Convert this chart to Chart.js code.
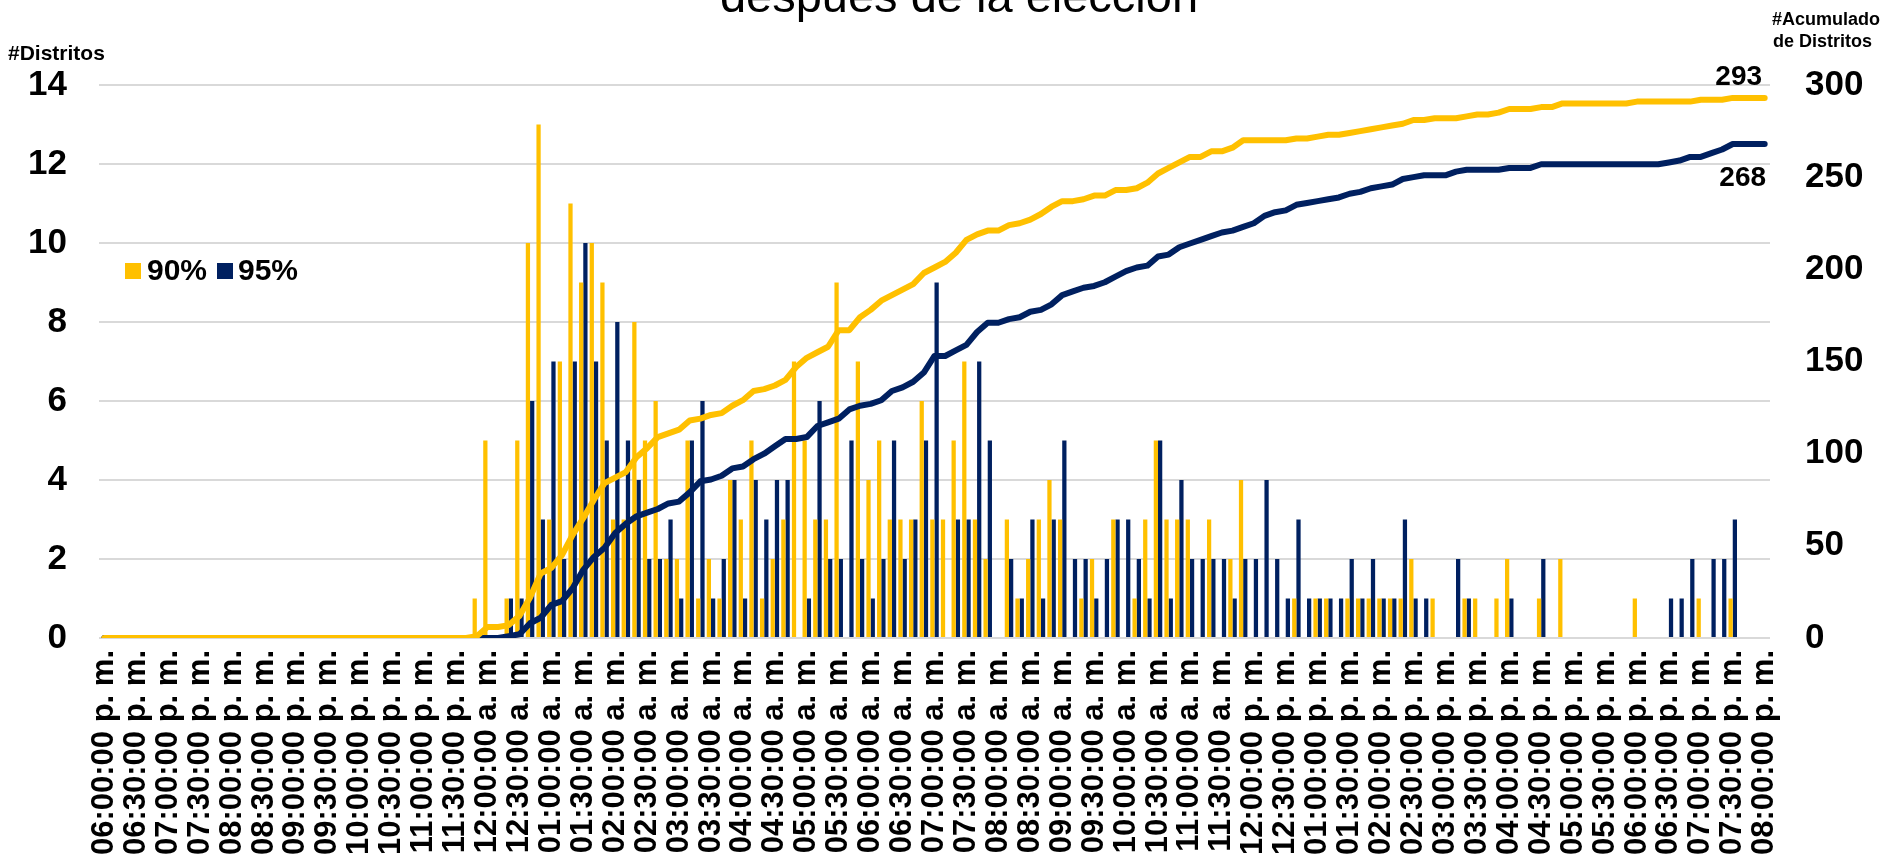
<!DOCTYPE html>
<html>
<head>
<meta charset="utf-8">
<script src="https://cdn.jsdelivr.net/npm/chart.js@4/dist/chart.umd.min.js"></script>
<style>
  body { margin: 0; background: #fff; }
  canvas { display: block; }
</style>
</head>
<body>
<canvas id="grafico" width="1881" height="856"></canvas>
<script>
// etiquetas del eje x (cada 30 min); los datos van cada 10 min
const tickLabels = [
  '06:00:00 p. m.', '06:30:00 p. m.', '07:00:00 p. m.', '07:30:00 p. m.', '08:00:00 p. m.', '08:30:00 p. m.',
  '09:00:00 p. m.', '09:30:00 p. m.', '10:00:00 p. m.', '10:30:00 p. m.', '11:00:00 p. m.', '11:30:00 p. m.',
  '12:00:00 a. m.', '12:30:00 a. m.', '01:00:00 a. m.', '01:30:00 a. m.', '02:00:00 a. m.', '02:30:00 a. m.',
  '03:00:00 a. m.', '03:30:00 a. m.', '04:00:00 a. m.', '04:30:00 a. m.', '05:00:00 a. m.', '05:30:00 a. m.',
  '06:00:00 a. m.', '06:30:00 a. m.', '07:00:00 a. m.', '07:30:00 a. m.', '08:00:00 a. m.', '08:30:00 a. m.',
  '09:00:00 a. m.', '09:30:00 a. m.', '10:00:00 a. m.', '10:30:00 a. m.', '11:00:00 a. m.', '11:30:00 a. m.',
  '12:00:00 p. m.', '12:30:00 p. m.', '01:00:00 p. m.', '01:30:00 p. m.', '02:00:00 p. m.', '02:30:00 p. m.',
  '03:00:00 p. m.', '03:30:00 p. m.', '04:00:00 p. m.', '04:30:00 p. m.', '05:00:00 p. m.', '05:30:00 p. m.',
  '06:00:00 p. m.', '06:30:00 p. m.', '07:00:00 p. m.', '07:30:00 p. m.', '08:00:00 p. m.'
];

// distritos por intervalo de 10 min (una fila = 2 horas)
const barras90 = [
  0,0,0,0,0,0,0,0,0,0,0,0,
  0,0,0,0,0,0,0,0,0,0,0,0,
  0,0,0,0,0,0,0,0,0,0,0,1,
  5,0,1,5,10,13,3,7,11,9,10,9,
  3,3,8,5,6,2,2,5,1,2,1,4,
  3,5,1,2,3,7,5,3,3,9,0,7,
  4,5,3,3,3,6,3,3,5,7,3,2,
  0,3,1,2,3,4,3,0,1,2,0,3,
  0,1,3,5,3,3,3,0,3,0,2,4,
  0,0,0,0,1,0,1,1,0,1,1,1,
  1,1,1,2,0,1,0,0,1,1,0,1,
  2,0,0,1,0,2,0,0,0,0,0,0,
  1,0,0,0,0,0,1,0,0,1,0,0,
  0
];
const barras95 = [
  0,0,0,0,0,0,0,0,0,0,0,0,
  0,0,0,0,0,0,0,0,0,0,0,0,
  0,0,0,0,0,0,0,0,0,0,0,0,
  0,0,1,1,6,3,7,2,7,10,7,5,
  8,5,4,2,2,3,1,5,6,1,2,4,
  1,4,3,4,4,0,1,6,2,2,5,2,
  1,2,5,2,3,5,9,0,3,3,7,5,
  0,2,1,3,1,3,5,2,2,1,2,3,
  3,2,1,5,1,4,2,2,2,2,1,2,
  2,4,2,1,3,1,1,1,1,2,1,2,
  1,1,3,1,1,0,0,2,1,0,0,0,
  1,0,0,2,0,0,0,0,0,0,0,0,
  0,0,0,1,1,2,0,2,2,3,0,0,
  0
];

// acumulado de distritos
const acum90 = [
  0,0,0,0,0,0,0,0,0,0,0,0,
  0,0,0,0,0,0,0,0,0,0,0,0,
  0,0,0,0,0,0,0,0,0,0,0,1,
  6,6,7,12,22,35,38,45,56,65,75,84,
  87,90,98,103,109,111,113,118,119,121,122,126,
  129,134,135,137,140,147,152,155,158,167,167,174,
  178,183,186,189,192,198,201,204,209,216,219,221,
  221,224,225,227,230,234,237,237,238,240,240,243,
  243,244,247,252,255,258,261,261,264,264,266,270,
  270,270,270,270,271,271,272,273,273,274,275,276,
  277,278,279,281,281,282,282,282,283,284,284,285,
  287,287,287,288,288,290,290,290,290,290,290,290,
  291,291,291,291,291,291,292,292,292,293,293,293,
  293
];
const acum95 = [
  0,0,0,0,0,0,0,0,0,0,0,0,
  0,0,0,0,0,0,0,0,0,0,0,0,
  0,0,0,0,0,0,0,0,0,0,0,0,
  0,0,1,2,8,11,18,20,27,37,44,49,
  57,62,66,68,70,73,74,79,85,86,88,92,
  93,97,100,104,108,108,109,115,117,119,124,126,
  127,129,134,136,139,144,153,153,156,159,166,171,
  171,173,174,177,178,181,186,188,190,191,193,196,
  199,201,202,207,208,212,214,216,218,220,221,223,
  225,229,231,232,235,236,237,238,239,241,242,244,
  245,246,249,250,251,251,251,253,254,254,254,254,
  255,255,255,257,257,257,257,257,257,257,257,257,
  257,257,257,258,259,261,261,263,265,268,268,268,
  268
];

const amarillo = '#FFC000';
const azul = '#002060';

// 157 categorias de 10 min, solo cada tercera lleva texto
let categorias = [];
for (let i = 0; i < barras90.length; i++) {
  categorias.push(i % 3 === 0 ? tickLabels[i / 3] : '');
}

const fuente = '"Liberation Sans", Arial, sans-serif';

// titulo cortado, titulos de ejes, leyenda y etiquetas 293 / 268
const textos = {
  id: 'textos',
  afterDraw(chart) {
    const c = chart.ctx;
    c.save();
    c.fillStyle = '#000';
    c.textAlign = 'center';
    c.textBaseline = 'alphabetic';
    c.font = '47px ' + fuente;
    c.fillText('después de la elección', 959, 12);

    c.textAlign = 'left';
    c.font = 'bold 21px ' + fuente;
    c.fillText('#Distritos', 8, 60);
    c.font = 'bold 18px ' + fuente;
    c.fillText('#Acumulado', 1772, 25);
    c.fillText('de Distritos', 1773, 47);

    // leyenda
    c.font = 'bold 30px ' + fuente;
    c.fillStyle = amarillo;
    c.fillRect(125, 263, 16, 16);
    c.fillStyle = '#000';
    c.fillText('90%', 147, 280);
    c.fillStyle = azul;
    c.fillRect(217, 263, 16, 16);
    c.fillStyle = '#000';
    c.fillText('95%', 238, 280);

    // etiqueta del ultimo punto
    c.font = 'bold 28px ' + fuente;
    c.textAlign = 'center';
    const p90 = chart.getDatasetMeta(2).data[acum90.length - 1];
    const p95 = chart.getDatasetMeta(3).data[acum95.length - 1];
    c.fillText(acum90[acum90.length - 1], p90.x - 26, p90.y - 13);
    c.fillText(acum95[acum95.length - 1], p95.x - 22, p95.y + 42);
    c.restore();
  }
};

let ctx = document.getElementById('grafico').getContext('2d');
let grafico = new Chart(ctx, {
  data: {
    labels: categorias,
    datasets: [{
      type: 'bar',
      label: '90%',
      data: barras90,
      backgroundColor: amarillo,
      yAxisID: 'y',
      barPercentage: 1,
      categoryPercentage: 0.8,
      order: 2
    }, {
      type: 'bar',
      label: '95%',
      data: barras95,
      backgroundColor: azul,
      yAxisID: 'y',
      barPercentage: 1,
      categoryPercentage: 0.8,
      order: 2
    }, {
      type: 'line',
      label: 'Acumulado 90%',
      data: acum90,
      borderColor: amarillo,
      borderWidth: 6,
      pointRadius: 0,
      borderJoinStyle: 'round',
      borderCapStyle: 'round',
      yAxisID: 'y2',
      order: 1
    }, {
      type: 'line',
      label: 'Acumulado 95%',
      data: acum95,
      borderColor: azul,
      borderWidth: 6,
      pointRadius: 0,
      borderJoinStyle: 'round',
      borderCapStyle: 'round',
      yAxisID: 'y2',
      order: 1
    }]
  },
  options: {
    responsive: false,
    animation: false,
    devicePixelRatio: 1,
    layout: { padding: { top: 85, left: 0, right: 0, bottom: 0 } },
    plugins: {
      legend: { display: false },
      tooltip: { enabled: false },
      title: { display: false }
    },
    scales: {
      x: {
        grid: { display: false, drawTicks: false },
        border: { display: false },
        ticks: {
          autoSkip: false,
          minRotation: 90,
          maxRotation: 90,
          padding: 12,
          color: '#000',
          font: { family: fuente, size: 31, weight: 'bold' }
        },
        afterFit(scale) { scale.height = 218; }
      },
      y: {
        position: 'left',
        min: 0,
        max: 14,
        ticks: {
          stepSize: 2,
          padding: 32,
          color: '#000',
          font: { family: fuente, size: 35, weight: 'bold' }
        },
        grid: { color: '#d9d9d9', lineWidth: 2, drawTicks: false },
        border: { display: false },
        afterFit(scale) { scale.width = 99; }
      },
      y2: {
        position: 'right',
        min: 0,
        max: 300,
        ticks: {
          stepSize: 50,
          padding: 35,
          color: '#000',
          font: { family: fuente, size: 35, weight: 'bold' }
        },
        grid: { display: false, drawTicks: false },
        border: { display: false },
        afterFit(scale) { scale.width = 111; }
      }
    }
  },
  plugins: [textos]
});
</script>
</body>
</html>
